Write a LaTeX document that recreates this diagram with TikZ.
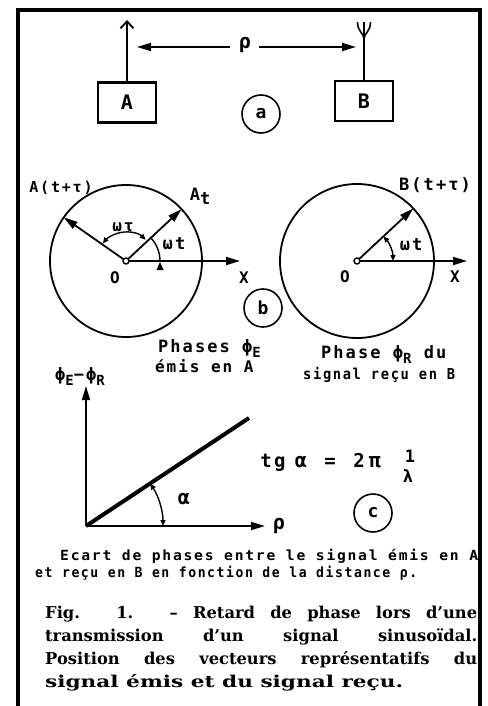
\documentclass[tikz,border=0pt]{standalone}
\usepackage{fontspec}
\usetikzlibrary{arrows.meta,calc}
\newfontfamily\lr[LetterSpace=12]{DejaVu Sans Mono}
\newfontfamily\capf{DejaVu Serif}
\newcommand\fs[1]{\fontsize{#1}{#1}\selectfont}
\newcommand\lsub[1]{\raisebox{-5pt}{\fs{14}#1}}
\newsavebox\fitbox
\newcommand\fitw[2]{\sbox\fitbox{#2}\scalebox{\fpeval{(#1)/(\the\wd\fitbox)}}[1]{\usebox\fitbox}}
\begin{document}
\begin{tikzpicture}[x=1pt,y=-1pt,
  lab/.style={font=\lr\bfseries\fs{16}, inner sep=0pt},
  big/.style={-{Triangle[length=14pt,width=8pt]}, line width=1.8pt},
  ang/.style={{Triangle[length=6pt,width=5pt]}-{Triangle[length=6pt,width=5pt]}, line width=1.4pt},
  ring/.style={draw, circle, line width=1.6pt, minimum size=38pt, inner sep=0pt, font=\lr\bfseries\fs{18}},
  box/.style={draw, line width=2.4pt, minimum width=58pt, minimum height=40pt, inner sep=0pt, font=\lr\bfseries\fs{20}},
  capline/.style={anchor=base west, inner sep=0pt, font=\capf\bfseries\fs{16.3}},
  small/.style={anchor=base west, inner sep=0pt, font=\lr\bfseries\fs{14}}]
\useasboundingbox (0,0) rectangle (487,706);
\fill[white] (0,0) rectangle (487,706);
% frame
\draw[line width=3.2pt] (18,706) -- (18,10) -- (480,10) -- (480,706);

% ---------- (a)
\node[box] (A) at (127,102.5) {A};
\node[box] (B) at (364,101) {B};
\coordinate (Atop) at (127,20);
\draw[line width=1.8pt, -{Straight Barb[length=7pt,width=13pt]}] (A.north) -- (Atop);
\coordinate (Btop) at (364,22);
\draw[line width=1.8pt] (B.north) -- (Btop);
\coordinate (BL) at (357.5,22);
\coordinate (BR) at (370.5,22);
\coordinate (BJ) at (364,39);
\draw[line width=1.6pt] (BL) .. controls (357.5,32) and (364,33) .. (BJ);
\draw[line width=1.6pt] (BR) .. controls (370.5,32) and (364,33) .. (BJ);
\node[lab, font=\lr\bfseries\fs{20}] (rho) at (245,45) {ρ};
\coordinate (rL) at (137,47);
\coordinate (rR) at (356,47);
\coordinate (rgL) at (230,47);
\coordinate (rgR) at (259,47);
\draw[big] (rgL) -- (rL);
\draw[big] (rgR) -- (rR);
\node[ring] (ca) at (261,114) {a};

% ---------- (b) left
\coordinate (O1) at (126,261);
\draw[line width=1.8pt] (O1) circle[radius=76];
\coordinate (At) at ($(O1)+(-43:76)$);
\coordinate (Att) at ($(O1)+(-145:76)$);
\coordinate (X1) at (240,261);
\draw[big] (O1) -- (X1);
\draw[big] (O1) -- (At);
\draw[big] (O1) -- (Att);
\draw[ang] ($(O1)+(-47:29)$) arc[start angle=-47, end angle=-143, radius=29];
\draw[line width=1.4pt] ($(O1)+(-43:34)$) arc[start angle=-43, end angle=0, radius=34];
\coordinate (T1) at (160,262);
\fill (T1) -- ++(-3.5,8) -- ++(7,0) -- cycle;
\draw[line width=1.4pt, fill=white] (O1) circle[radius=3];
\node[lab, font=\lr\bfseries\fs{15}] (lAtt) at (61,188) {A(t+τ)};
\node[lab, font=\lr\bfseries\fs{17}] (lAt) at (200,196) {A\raisebox{-4pt}{t}};
\node[lab] (lwtau) at (123,227) {ωτ};
\node[lab, font=\lr\bfseries\fs{17}] (lwt1) at (174,244) {ωt};
\node[lab] (lO1) at (115,278) {O};
\node[lab] (lX1) at (244,278) {X};
\node[ring] (cb) at (263,308) {b};
\node[lab, anchor=base west, font=\lr\bfseries\fs{17}] (ph1) at (158,352) {Phases ϕ\lsub{E}};
\node[lab, anchor=base west, font=\lr\bfseries\fs{16}] (ph1b) at (155,372) {émis en A};

% ---------- (b) right
\coordinate (O2) at (357,261);
\draw[line width=1.8pt] (O2) circle[radius=77];
\coordinate (Bt) at ($(O2)+(-43:77)$);
\coordinate (X2) at (467,261);
\draw[big] (O2) -- (X2);
\draw[big] (O2) -- (Bt);
\draw[ang] ($(O2)+(-43:36)$) arc[start angle=-43, end angle=0, radius=36];
\draw[line width=1.4pt, fill=white] (O2) circle[radius=3];
\node[lab, font=\lr\bfseries\fs{17}] (lBtt) at (435,185) {B(t+τ)};
\node[lab, font=\lr\bfseries\fs{17}] (lwt2) at (411,245) {ωt};
\node[lab] (lO2) at (345,277) {O};
\node[lab] (lX2) at (455,277) {X};
\node[lab, anchor=base west, font=\lr\bfseries\fs{17}] (ph2) at (321,358) {Phase ϕ\lsub{R} du};
\node[lab, anchor=base west, font=\lr\bfseries\fs{15}] (ph2b) at (303,379) {\fitw{152pt}{signal reçu en B}};

% ---------- (c)
\coordinate (C0) at (86,526);
\coordinate (Cy) at (86,386);
\coordinate (Cx) at (265,526);
\coordinate (Cl) at (249,418);
\draw[big] (C0) -- (Cy);
\draw[big] (C0) -- (Cx);
\draw[line width=4pt] (C0) -- (Cl);
\draw[ang] ($(C0)+(-33.5:77)$) arc[start angle=-33.5, end angle=0, radius=77];
\node[lab, anchor=base west, font=\lr\bfseries\fs{17}] (phd) at (55,380) {ϕ\lsub{E}−ϕ\lsub{R}};
\node[lab, font=\lr\bfseries\fs{20}] (lal) at (184,499) {α};
\node[lab, font=\lr\bfseries\fs{20}] (lrho2) at (279,526) {ρ};
\node[lab, anchor=base, font=\lr\bfseries\fs{19}] (tg) at (273,467) {tg};
\node[lab, anchor=base, font=\lr\bfseries\fs{20}] (tga) at (301,467) {α};
\node[lab, anchor=base, font=\lr\bfseries\fs{19}] (eq) at (330,467) {=};
\node[lab, anchor=base, font=\lr\bfseries\fs{19}] (two) at (359,467) {2};
\node[lab, anchor=base, font=\lr\bfseries\fs{20}] (pi) at (375,467) {π};
\node[lab, font=\lr\bfseries\fs{17}] (one) at (410,456) {1};
\node[lab, font=\lr\bfseries\fs{17}] (lam) at (408,476) {λ};
\node[ring] (cc) at (373,513) {c};

\node[small] (e1) at (60,560) {\fitw{418pt}{Ecart de phases entre le signal émis en A}};
\node[small] (e2) at (35,577) {\fitw{382pt}{et reçu en B en fonction de la distance ρ.}};

% ---------- caption
\node[capline] (f1) at (45,618) {\makebox[432pt][s]{Fig. 1. – Retard de phase lors d’une}};
\node[capline] (f2) at (45,641) {\makebox[432pt][s]{transmission d’un signal sinusoïdal.}};
\node[capline] (f3) at (45,664) {\makebox[432pt][s]{Position des vecteurs représentatifs du}};
\node[capline] (f4) at (45,687) {\fitw{358pt}{signal émis et du signal reçu.}};
\end{tikzpicture}
\end{document}
